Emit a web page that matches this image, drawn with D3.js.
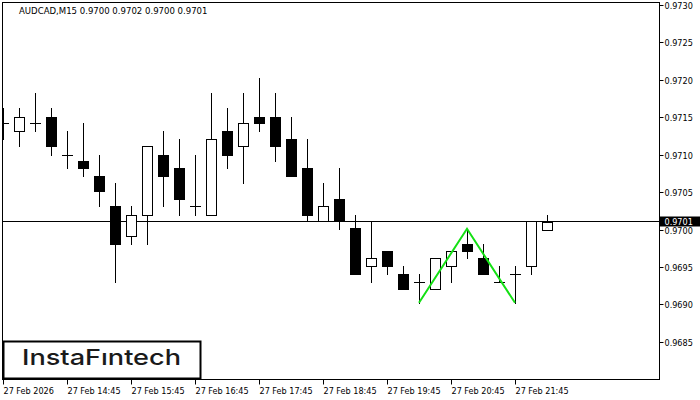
<!DOCTYPE html>
<html><head><meta charset="utf-8">
<script src="https://cdn.jsdelivr.net/npm/d3@7"></script>
<style>
html,body{margin:0;padding:0;background:#fff;}
svg{display:block;}
.ax{font-family:"DejaVu Sans Condensed","Liberation Sans",sans-serif;font-size:9px;fill:#000;}
</style></head><body>
<svg id="c" width="700" height="400"></svg>
<script>
// ---- data ----
const times = ["13:45","14:00","14:15","14:30","14:45","15:00","15:15","15:30","15:45","16:00","16:15","16:30","16:45","17:00","17:15","17:30","17:45","18:00","18:15","18:30","18:45","19:00","19:15","19:30","19:45","20:00","20:15","20:30","20:45","21:00","21:15","21:30","21:45","22:00","22:15"];
const open  = [0.97142,0.97132,0.97142,0.97151,0.97100,0.97092,0.97071,0.97031,0.96991,0.97020,0.97100,0.97082,0.97031,0.97020,0.97132,0.97111,0.97151,0.97151,0.97121,0.97082,0.97011,0.97041,0.97002,0.96951,0.96971,0.96941,0.96930,0.96920,0.96951,0.96981,0.96962,0.96930,0.96941,0.96951,0.97000];
const high  = [0.97162,0.97162,0.97182,0.97162,0.97132,0.97142,0.97100,0.97062,0.97031,0.97111,0.97132,0.97121,0.97100,0.97182,0.97162,0.97182,0.97202,0.97182,0.97151,0.97121,0.97062,0.97082,0.97020,0.97011,0.96971,0.96951,0.96941,0.96962,0.96971,0.97001,0.96981,0.96951,0.96951,0.97011,0.97020];
const low   = [0.97121,0.97111,0.97132,0.97100,0.97082,0.97071,0.97031,0.96930,0.96981,0.96981,0.97031,0.97020,0.97020,0.97020,0.97082,0.97062,0.97132,0.97091,0.97071,0.97011,0.97011,0.97001,0.96941,0.96930,0.96941,0.96920,0.96902,0.96920,0.96930,0.96962,0.96941,0.96930,0.96902,0.96941,0.97000];
const close = [0.97142,0.97151,0.97142,0.97111,0.97100,0.97082,0.97051,0.96981,0.97020,0.97111,0.97071,0.97041,0.97031,0.97121,0.97100,0.97142,0.97142,0.97111,0.97071,0.97020,0.97031,0.97011,0.96941,0.96962,0.96951,0.96920,0.96930,0.96962,0.96971,0.96971,0.96941,0.96930,0.96941,0.97011,0.97010];
const yTicks = [0.9685,0.9690,0.9695,0.9700,0.9705,0.9710,0.9715,0.9720,0.9725,0.9730];
const xTickIdx = [0,4,8,12,16,20,24,28,32];
const xTickLabels = ["27 Feb 2026","27 Feb 14:45","27 Feb 15:45","27 Feb 16:45","27 Feb 17:45","27 Feb 18:45","27 Feb 19:45","27 Feb 20:45","27 Feb 21:45"];
const patternIdx = [26,29,32];
const patternPrice = [0.96902,0.97001,0.96902];
const currentPrice = 0.9701;
const title = "AUDCAD,M15  0.9700 0.9702 0.9700 0.9701";

// ---- layout ----
const L=2.5, R=659.5, T=2.5, B=379.5;
const svg = d3.select("#c");
const x = d3.scaleLinear().domain([0,34]).range([3,547]);
const y = d3.scaleLinear().domain([0.9680,0.9730]).range([379.1,5.1]);
const cx = i => Math.round(x(i));
const cy = v => Math.round(y(v));

svg.append("defs").append("clipPath").attr("id","pc")
  .append("rect").attr("x",L).attr("y",T).attr("width",R-L).attr("height",B-T);

const g = svg.append("g").attr("clip-path","url(#pc)");

// current price line
g.append("line").attr("x1",L).attr("x2",R)
  .attr("y1",cy(currentPrice)-0.5).attr("y2",cy(currentPrice)-0.5)
  .attr("stroke","#000").attr("stroke-width",1);

// candles
const data = open.map((o,i)=>({i,o,h:high[i],l:low[i],c:close[i]}));
const cg = g.selectAll("g.cd").data(data).enter().append("g");
cg.append("line")
  .attr("x1",d=>cx(d.i)+0.5).attr("x2",d=>cx(d.i)+0.5)
  .attr("y1",d=>cy(d.h)).attr("y2",d=>cy(d.l)+1)
  .attr("stroke","#000").attr("stroke-width",1);
cg.filter(d=>Math.abs(cy(d.o)-cy(d.c))>=2).append("rect")
  .attr("x",d=>cx(d.i)-4.5).attr("width",10)
  .attr("y",d=>Math.min(cy(d.o),cy(d.c))+0.5)
  .attr("height",d=>Math.abs(cy(d.o)-cy(d.c)))
  .attr("fill",d=>d.c<d.o?"#000":"#fff")
  .attr("stroke","#000").attr("stroke-width",1);
cg.filter(d=>Math.abs(cy(d.o)-cy(d.c))<2).append("line")
  .attr("x1",d=>cx(d.i)-5).attr("x2",d=>cx(d.i)+6)
  .attr("y1",d=>cy(d.o)+0.5).attr("y2",d=>cy(d.o)+0.5)
  .attr("stroke","#000").attr("stroke-width",1);

// pattern
g.append("path")
  .attr("d",d3.line().x((d,k)=>x(patternIdx[k])).y(d=>y(d))(patternPrice))
  .attr("fill","none").attr("stroke","#14e014").attr("stroke-width",2);

// frame
svg.append("rect").attr("x",L).attr("y",T).attr("width",R-L).attr("height",B-T)
  .attr("fill","none").attr("stroke","#000").attr("stroke-width",1);

// title
svg.append("text").attr("class","ax").attr("x",19).attr("y",14).style("font-size","9.5px").text(title);

// y axis
const ya = svg.append("g");
yTicks.forEach(v=>{
  const yy = cy(v)+0.5;
  ya.append("line").attr("x1",R).attr("x2",R+4).attr("y1",yy).attr("y2",yy).attr("stroke","#000");
  ya.append("text").attr("class","ax").attr("x",R+5).attr("y",yy+3.5).text(d3.format(".4f")(v));
});
// current price label
const py = cy(currentPrice)-0.5;
svg.append("rect").attr("x",R+0.5).attr("y",py-5).attr("width",40).attr("height",10).attr("fill","#000");
svg.append("text").attr("class","ax").attr("x",R+5).attr("y",py+3.5).style("fill","#fff").text(d3.format(".4f")(currentPrice));

// x axis
xTickIdx.forEach((idx,k)=>{
  const xx = cx(idx)+0.5;
  svg.append("line").attr("x1",xx).attr("x2",xx).attr("y1",B).attr("y2",B+5).attr("stroke","#000");
  svg.append("text").attr("class","ax").attr("x",xx).attr("y",394).text(xTickLabels[k]);
});

// logo
svg.append("rect").attr("x",3.5).attr("y",341.5).attr("width",197).attr("height",37)
  .attr("fill","#fff").attr("stroke","#000").attr("stroke-width",2);
svg.append("text").attr("x",22).attr("y",365)
  .attr("font-family","Inter, 'Noto Sans', sans-serif").attr("font-weight",500)
  .attr("font-size",22).attr("fill","#1a1a1a")
  .attr("textLength",159).attr("lengthAdjust","spacingAndGlyphs")
  .text("InstaFıntech");
</script>
</body></html>
